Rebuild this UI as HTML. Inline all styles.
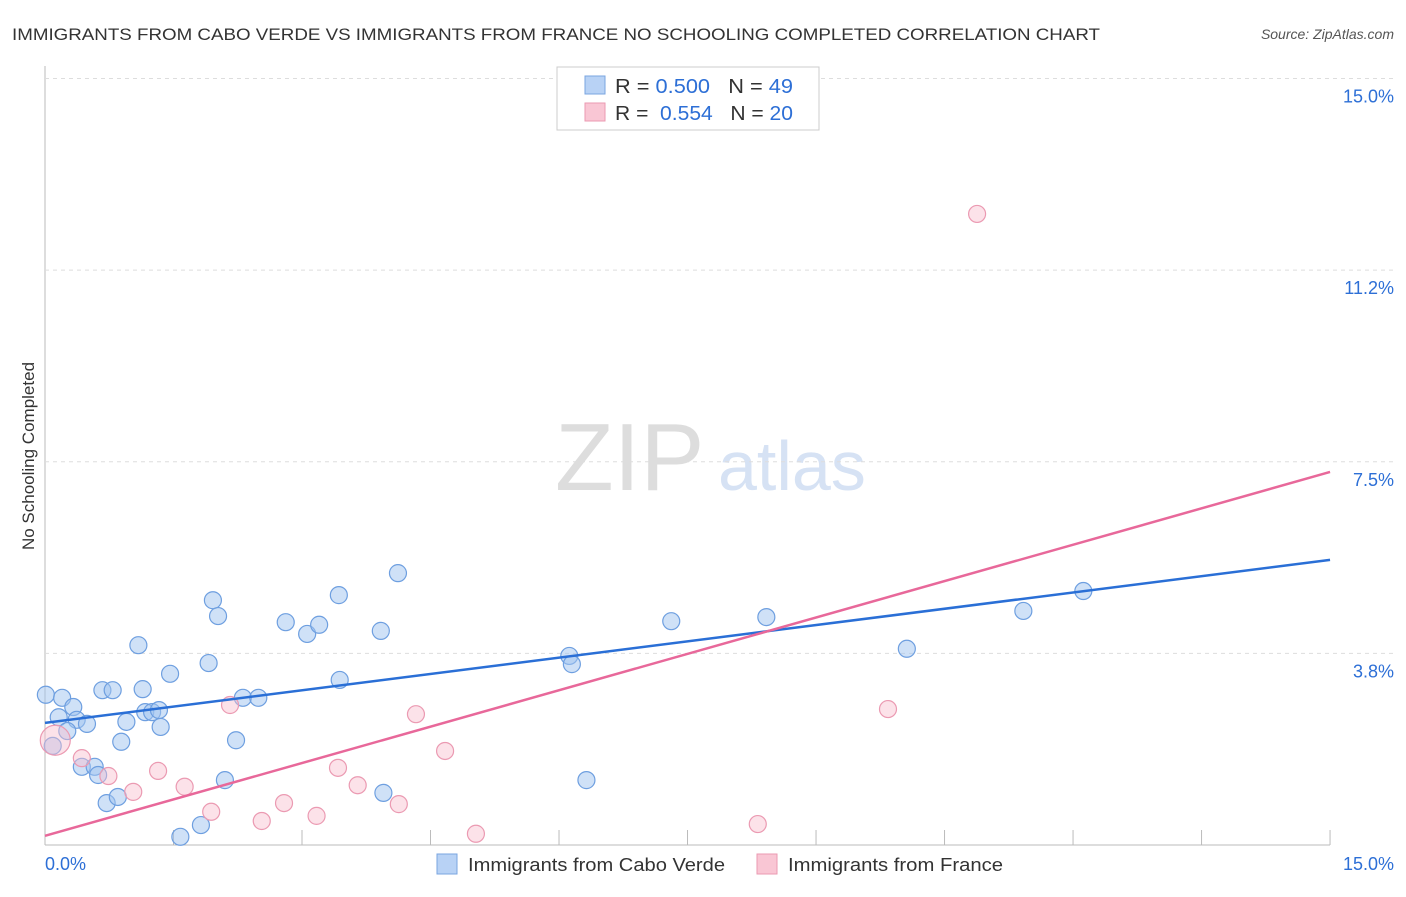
<!DOCTYPE html>
<html><head><meta charset="utf-8"><style>
body{margin:0;background:#fff;font-family:"Liberation Sans",sans-serif}
svg text{font-family:"Liberation Sans",sans-serif}
</style></head><body>
<svg width="1406" height="892" id="chart">
<text x="12" y="40" font-size="17" fill="#333" textLength="1088" lengthAdjust="spacingAndGlyphs">IMMIGRANTS FROM CABO VERDE VS IMMIGRANTS FROM FRANCE NO SCHOOLING COMPLETED CORRELATION CHART</text>
<text x="1394" y="39" font-size="14" fill="#555" font-style="italic" text-anchor="end">Source: ZipAtlas.com</text>
<text x="555" y="490" font-size="96" fill="#ddd" font-family="Liberation Serif">ZIP</text>
<text x="718" y="490" font-size="70" fill="#d6e2f4">atlas</text>
<text x="34" y="456" font-size="17" fill="#333" transform="rotate(-90 34 456)" text-anchor="middle">No Schooling Completed</text>
<g id="grid"></g><g id="pts"></g><g id="lines"></g>
<rect x="557" y="67" width="262" height="63" fill="#fff" stroke="#ccc"/>
<rect x="585" y="76" width="20" height="18" fill="#b8d2f5" stroke="#7aa5e0"/>
<rect x="585" y="103" width="20" height="18" fill="#f9c6d4" stroke="#eb9ab2"/>
<text x="615" y="93" font-size="20" fill="#333" textLength="178" lengthAdjust="spacingAndGlyphs">R = <tspan fill="#2d6fd6">0.500</tspan>&#160;&#160;&#160;N = <tspan fill="#2d6fd6">49</tspan></text>
<text x="615" y="120" font-size="20" fill="#333" textLength="178" lengthAdjust="spacingAndGlyphs">R = &#160;<tspan fill="#2d6fd6">0.554</tspan>&#160;&#160;&#160;N = <tspan fill="#2d6fd6">20</tspan></text>
<rect x="437" y="854" width="20" height="20" fill="#b8d2f5" stroke="#7aa5e0"/>
<text x="468" y="871" font-size="18" fill="#333" textLength="257" lengthAdjust="spacingAndGlyphs">Immigrants from Cabo Verde</text>
<rect x="757" y="854" width="20" height="20" fill="#f9c6d4" stroke="#eb9ab2"/>
<text x="788" y="871" font-size="18" fill="#333" textLength="215" lengthAdjust="spacingAndGlyphs">Immigrants from France</text>
<text x="45" y="870" font-size="18" fill="#2d6fd6">0.0%</text>
<text x="1394" y="870" font-size="18" fill="#2d6fd6" text-anchor="end">15.0%</text>
</svg>
<script>
const yTicks=[3.75,7.5,11.25,15];
const yTickLabels=["3.8%","7.5%","11.2%","15.0%"];
const xTicks=[1.5,3,4.5,6,7.5,9,10.5,12,13.5,15];
const blueX=[0.01,0.20,0.33,0.16,0.37,0.49,0.26,0.09,0.67,0.79,1.14,0.95,0.89,1.17,1.25,1.33,1.35,1.46,1.09,1.96,2.02,1.91,2.31,2.49,2.23,2.10,2.81,3.06,3.20,3.43,3.44,3.92,4.12,3.95,0.43,0.58,0.62,0.72,0.85,1.58,1.82,6.12,6.15,6.32,7.31,8.42,10.06,11.42,12.12];
const blueY=[2.94,2.88,2.70,2.50,2.45,2.37,2.23,1.94,3.03,3.03,3.05,2.41,2.02,2.60,2.60,2.64,2.31,3.35,3.91,4.79,4.48,3.56,2.88,2.88,2.05,1.27,4.36,4.13,4.31,4.89,3.23,4.19,5.32,1.02,1.53,1.53,1.37,0.82,0.94,0.16,0.39,3.70,3.54,1.27,4.38,4.46,3.84,4.58,4.97];
const pinkX=[0.12,0.43,0.74,1.03,1.32,1.63,1.94,2.16,2.53,2.79,3.17,3.42,3.65,4.13,4.33,4.67,5.03,8.32,9.84,10.88];
const pinkY=[2.05,1.70,1.35,1.04,1.45,1.14,0.65,2.74,0.47,0.82,0.57,1.51,1.17,0.80,2.56,1.84,0.22,0.41,2.66,12.35];
const blueTrend=[2.39,5.58];
const pinkTrend=[0.18,7.30];
const trendX=[0,15];
const X=v=>45+v*85.67, Y=v=>845-v*51.1;
const NS="http://www.w3.org/2000/svg";
function mk(t,a,p){const e=document.createElementNS(NS,t);for(const k in a)e.setAttribute(k,a[k]);document.getElementById(p).appendChild(e);return e;}
let e=mk('line',{x1:45,y1:66,x2:45,y2:845,stroke:'#bbb'},'grid');


e=mk('line',{x1:45,y1:845,x2:1330,y2:845,stroke:'#bbb'},'grid');


yTicks.forEach((v,i)=>{
 let g=mk('line',{x1:45,y1:Y(v),x2:1394,y2:Y(v),stroke:'#ddd','stroke-dasharray':'4 4'},'grid');
 
 
 let t=mk('text',{x:1394,y:Y(v)+24,'font-size':18,fill:'#2d6fd6','text-anchor':'end'},'grid');
 t.textContent=yTickLabels[i];
 
 
});
xTicks.forEach(v=>{
 let g=mk('line',{x1:X(v),y1:830,x2:X(v),y2:845,stroke:'#bbb'},'grid');
 
 
});
blueX.forEach((v,i)=>{
 let c=mk('circle',{cx:X(v),cy:Y(blueY[i]),r:8.5,fill:'rgba(160,196,240,0.5)',stroke:'#6e9fe0','stroke-width':1.2},'pts');
 
 
});
pinkX.forEach((v,i)=>{
 let c=mk('circle',{cx:X(v),cy:Y(pinkY[i]),r:i==0?15:8.5,fill:'rgba(248,190,206,0.45)',stroke:'#eb9ab2','stroke-width':1.2},'pts');
 
 
});
e=mk('line',{x1:X(trendX[0]),y1:Y(blueTrend[0]),x2:X(trendX[1]),y2:Y(blueTrend[1]),stroke:'#2a6fd6','stroke-width':2.5},'lines');


e=mk('line',{x1:X(trendX[0]),y1:Y(pinkTrend[0]),x2:X(trendX[1]),y2:Y(pinkTrend[1]),stroke:'#e8689a','stroke-width':2.5},'lines');


</script>
</body></html>
